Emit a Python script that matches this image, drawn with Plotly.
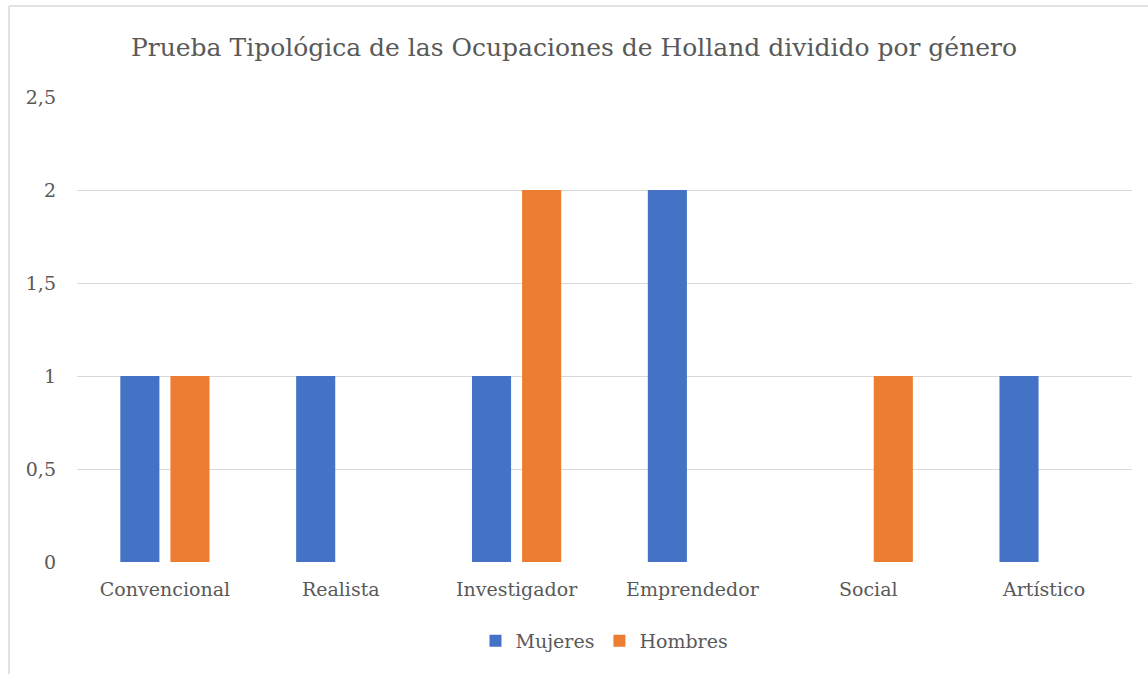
import plotly.graph_objects as go

categories = ["Convencional", "Realista", "Investigador", "Emprendedor", "Social", "Artístico"]
mujeres = [1, 1, 1, 2, 0, 1]
hombres = [1, 0, 2, 0, 1, 0]
y_ticks = [0, 0.5, 1, 1.5, 2, 2.5]

W, H = 1148, 674
L, R, T, B = 77, 16, 97, 112
pw, ph = W - L - R, H - T - B

def px(x):
    return (x - L) / pw

def py(y):
    return (H - B - y) / ph

fig = go.Figure()
fig.add_trace(go.Bar(name="Mujeres", x=categories, y=mujeres, marker=dict(color="#4472C4", line=dict(width=0))))
fig.add_trace(go.Bar(name="Hombres", x=categories, y=hombres, marker=dict(color="#ED7D31", line=dict(width=0))))

font_family = "DejaVu Serif"
fig.update_layout(
    width=W, height=H,
    margin=dict(l=L, r=R, t=T, b=B, autoexpand=False),
    paper_bgcolor="white", plot_bgcolor="white",
    separators=", ",
    barmode="group", bargap=0.43, bargroupgap=0.22,
    font=dict(family=font_family, color="#595959", size=19),
    title=dict(text="Prueba Tipológica de las Ocupaciones de Holland dividido por género",
               x=0.5, xanchor="center", y=1 - 47 / H, yanchor="middle",
               font=dict(size=25, color="#595959", family=font_family)),
    xaxis=dict(showgrid=False, showline=False, zeroline=False, ticks="", ticklabelstandoff=14,
               tickfont=dict(size=19, color="#595959", family=font_family)),
    yaxis=dict(range=[0, 2.5], tickvals=y_ticks, showgrid=True, gridcolor="#D9D9D9", gridwidth=1,
               zeroline=False, showline=False, ticks="", ticklabelstandoff=20,
               tickfont=dict(size=19, color="#595959", family=font_family)),
    legend=dict(orientation="h", x=0.5, xanchor="center", y=py(641), yanchor="middle",
                font=dict(size=19, color="#595959", family=font_family), itemwidth=30, traceorder="normal"),
    showlegend=True,
    shapes=[
        dict(type="line", xref="paper", yref="paper", x0=px(9), x1=px(1160), y0=py(6), y1=py(6),
             line=dict(color="#D9D9D9", width=1.5)),
        dict(type="line", xref="paper", yref="paper", x0=px(9), x1=px(9), y0=py(6), y1=py(690),
             line=dict(color="#D9D9D9", width=1.5)),
    ],
)

fig.write_html("out.html", config={"displayModeBar": False},
               post_script="document.body.style.margin='0';document.body.style.overflow='hidden';")
